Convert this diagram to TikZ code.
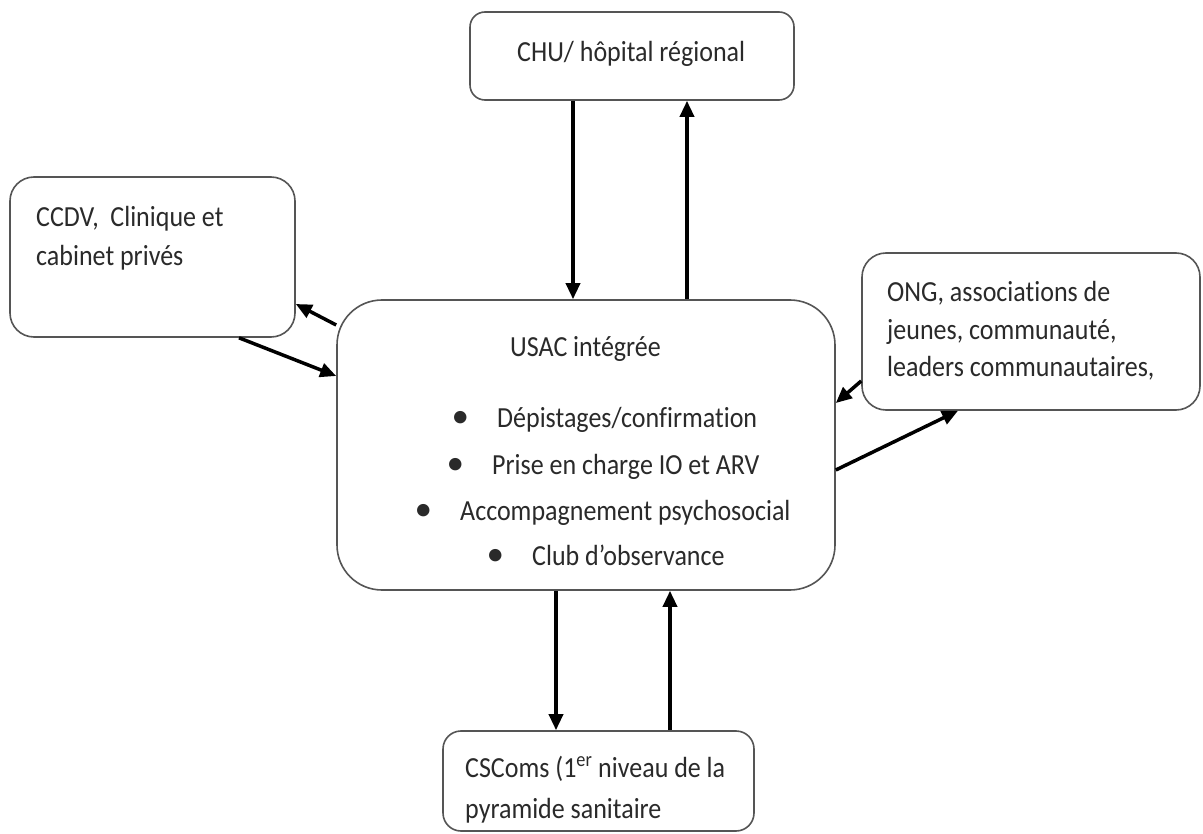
\documentclass[tikz,border=0pt]{standalone}
\usepackage{fontspec}
\setmainfont[Ligatures=NoCommon]{Carlito}
\usetikzlibrary{arrows.meta}
\definecolor{txt}{HTML}{2A2A2A}
\definecolor{edge}{HTML}{555555}
\newcommand{\vst}[1]{\scalebox{1}[1.12]{#1}}
\newcommand{\bigbul}{\makebox[0pt][r]{\scalebox{1.35}{\textbullet}\hspace{28pt}}}
\begin{document}
\begin{tikzpicture}[x=1pt,y=-1pt,
  box/.style={draw=edge, line width=1.6pt, fill=white, inner sep=0pt},
  lbl/.style={anchor=base west, inner sep=0pt, text=txt, font=\fontsize{26}{30}\selectfont},
  arr/.style={line width=3.5pt, draw=black, -{Triangle[length=16pt,width=14pt]}}]
\useasboundingbox (0,0) rectangle (1203,834);

% boxes
\node[box, rounded corners=15pt, minimum width=324pt, minimum height=88pt] (chu) at (632,56) {};
\node[box, rounded corners=24pt, minimum width=285pt, minimum height=160pt] (ccdv) at (152.5,257) {};
\node[box, rounded corners=45pt, minimum width=498pt, minimum height=290pt] (usac) at (586,445) {};
\node[box, rounded corners=24pt, minimum width=338pt, minimum height=157pt] (ong) at (1031,331.5) {};
\node[box, rounded corners=18pt, minimum width=311pt, minimum height=100pt] (cscom) at (598.5,781) {};

% texts
\node[lbl] (tchu) at (517,62) {\vst{CHU/ hôpital régional}};
\node[lbl] (tccdv1) at (36,227) {\vst{CCDV,\ \ Clinique et}};
\node[lbl] (tccdv2) at (36,266) {\vst{cabinet privés}};
\node[lbl] (tong1) at (887,302) {\vst{ONG, associations de}};
\node[lbl] (tong2) at (887,340) {\vst{jeunes, communauté,}};
\node[lbl] (tong3) at (887,377) {\vst{leaders communautaires,}};
\node[lbl] (tcs1) at (465,777) {\vst{CSComs (1\textsuperscript{er} niveau de la}};
\node[lbl] (tcs2) at (465,818) {\vst{pyramide sanitaire}};
\node[lbl] (tusac) at (510,357) {\vst{USAC intégrée}};
\node[lbl] (b1) at (497,428) {\bigbul\vst{Dépistages/confirmation}};
\node[lbl] (b2) at (492,475) {\bigbul\vst{Prise en charge IO et ARV}};
\node[lbl] (b3) at (460,520) {\bigbul\vst{Accompagnement psychosocial}};
\node[lbl] (b4) at (532,565) {\bigbul\vst{Club d’observance}};

% connectors
\draw[arr] (chu.south -| 573,0) -- (usac.north -| 573,0);
\draw[arr] (usac.north -| 687,0) -- (chu.south -| 687,0);
\draw[arr] (usac.west |- 0,325) -- (ccdv.east |- 0,304);
\draw[arr] (ccdv.south -| 239,0) -- (usac.west |- 0,376);
\draw[arr] (ong.west |- 0,381) -- (usac.east |- 0,403);
\draw[arr] (usac.east |- 0,470) -- (ong.south -| 958,0);
\draw[arr] (usac.south -| 556,0) -- (cscom.north -| 556,0);
\draw[arr] (cscom.north -| 670,0) -- (usac.south -| 670,0);
\end{tikzpicture}
\end{document}
